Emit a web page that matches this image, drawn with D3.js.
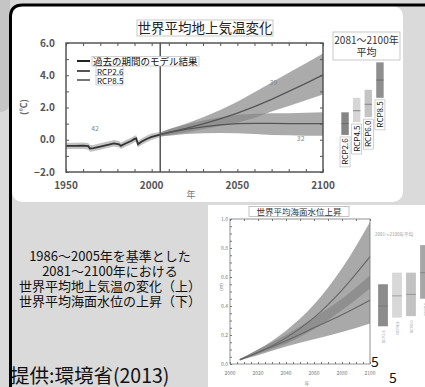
<!DOCTYPE html>
<html>
<head>
<meta charset="utf-8">
<script src="https://cdn.jsdelivr.net/npm/d3@7"></script>
<style>
  html, body { margin: 0; padding: 0; background: #dadada; }
  svg { display: block; }
  text { font-family: "Noto Sans CJK JP", "Noto Sans", sans-serif; }
</style>
</head>
<body>
<div id="slide"></div>
<script>
// ---- data: 世界平均地上気温変化 (℃, relative to 1986-2005) ----
const histYears = [1950, 1955, 1960, 1963, 1964, 1966, 1970, 1975, 1978, 1981, 1982, 1985, 1988, 1990, 1991, 1992, 1994, 1997, 2000, 2005];
const histMean  = [-0.38, -0.38, -0.37, -0.40, -0.55, -0.52, -0.42, -0.30, -0.22, -0.28, -0.38, -0.22, -0.08, 0.05, 0.08, -0.28, -0.12, 0.05, 0.18, 0.32];
const histHi    = [-0.18, -0.18, -0.17, -0.20, -0.33, -0.32, -0.22, -0.10, -0.02, -0.08, -0.18, -0.02, 0.12, 0.25, 0.28, -0.08, 0.08, 0.25, 0.38, 0.48];
const histLo    = [-0.58, -0.58, -0.57, -0.60, -0.75, -0.72, -0.62, -0.50, -0.42, -0.48, -0.58, -0.42, -0.28, -0.15, -0.12, -0.48, -0.32, -0.15, -0.02, 0.16];

const rcpYears  = [2005, 2010, 2020, 2030, 2040, 2050, 2060, 2070, 2080, 2090, 2100];
const rcp26Mean = [0.32, 0.45, 0.65, 0.80, 0.92, 1.00, 1.02, 1.02, 1.00, 1.00, 1.00];
const rcp26Hi   = [0.45, 0.65, 0.95, 1.20, 1.40, 1.55, 1.62, 1.65, 1.65, 1.68, 1.70];
const rcp26Lo   = [0.20, 0.25, 0.35, 0.40, 0.42, 0.40, 0.35, 0.30, 0.28, 0.25, 0.25];
const rcp85Mean = [0.32, 0.45, 0.70, 0.98, 1.30, 1.65, 2.05, 2.50, 3.00, 3.50, 4.02];
const rcp85Hi   = [0.45, 0.65, 1.00, 1.40, 1.85, 2.35, 2.95, 3.55, 4.15, 4.75, 5.35];
const rcp85Lo   = [0.20, 0.28, 0.45, 0.65, 0.85, 1.05, 1.35, 1.75, 2.10, 2.45, 2.80];

const rcpNames   = ["RCP2.6", "RCP4.5", "RCP6.0", "RCP8.5"];
const rcpColors  = ["#858585", "#d6d6d6", "#c4c4c4", "#8f8f8f"];
const tempAvg    = [1.0, 1.8, 2.2, 3.7];
const tempLow    = [0.3, 1.1, 1.4, 2.6];
const tempHigh   = [1.7, 2.6, 3.1, 4.8];

const tempYTicks = [-2, 0, 2, 4, 6];
const tempXTicks = [1950, 2000, 2050, 2100];

// ---- data: 世界平均海面水位上昇 (m) ----
const seaYears  = [2007, 2020, 2040, 2060, 2080, 2100];
const sea26Mean = [0.03, 0.08, 0.16, 0.25, 0.34, 0.44];
const sea26Hi   = [0.035, 0.10, 0.20, 0.32, 0.45, 0.61];
const sea26Lo   = [0.025, 0.06, 0.12, 0.17, 0.22, 0.28];
const sea85Mean = [0.03, 0.08, 0.18, 0.32, 0.51, 0.74];
const sea85Hi   = [0.035, 0.10, 0.23, 0.41, 0.66, 0.98];
const sea85Lo   = [0.025, 0.07, 0.14, 0.24, 0.37, 0.52];

const seaAvg  = [0.40, 0.47, 0.48, 0.63];
const seaLow  = [0.26, 0.32, 0.33, 0.45];
const seaHigh = [0.55, 0.63, 0.63, 0.82];

const seaYTicks = [0, 0.2, 0.4, 0.6, 0.8, 1.0];
const seaXTicks = [2000, 2020, 2040, 2060, 2080, 2100];

const captionLines = ["1986～2005年を基準とした", "2081～2100年における", "世界平均地上気温の変化（上）", "世界平均海面水位の上昇（下）"];

const W = 425, H = 387;
const svg = d3.select("#slide").append("svg")
    .attr("width", W)
    .attr("height", H);

// slide background pieces
svg.append("rect").attr("width", W).attr("height", H).attr("fill", "#dadada");
svg.append("path")
    .attr("d", "M0,0 H10 V100 Q10,112 0,112 Z")
    .attr("fill", "#c5c5c5");
svg.append("rect")
    .attr("x", 12).attr("y", 6).attr("width", 391).attr("height", 196)
    .attr("rx", 10)
    .attr("fill", "#fff");
svg.append("rect")
    .attr("x", 208).attr("y", 205).attr("width", 217).attr("height", 182)
    .attr("fill", "#fff");

// =============== top chart ===============
const xT = d3.scaleLinear().domain([1950, 2100]).range([66, 323]);
const yT = d3.scaleLinear().domain([-2, 6]).range([172, 43]);
const topG = svg.append("g");

const histPts = histYears.map((y, i) => ({ x: y, m: histMean[i], hi: histHi[i], lo: histLo[i] }));
const r26Pts = rcpYears.map((y, i) => ({ x: y, m: rcp26Mean[i], hi: rcp26Hi[i], lo: rcp26Lo[i] }));
const r85Pts = rcpYears.map((y, i) => ({ x: y, m: rcp85Mean[i], hi: rcp85Hi[i], lo: rcp85Lo[i] }));

const areaT = d3.area().x(d => xT(d.x)).y0(d => yT(d.lo)).y1(d => yT(d.hi));
const lineT = d3.line().x(d => xT(d.x)).y(d => yT(d.m));

topG.append("path").datum(histPts).attr("d", areaT).attr("fill", "#c2c2c2");
topG.append("path").datum(r85Pts).attr("d", areaT).attr("fill", "#888").attr("fill-opacity", 0.7);
topG.append("path").datum(r26Pts).attr("d", areaT).attr("fill", "#888").attr("fill-opacity", 0.7);
topG.append("path").datum(histPts).attr("d", lineT)
    .attr("fill", "none").attr("stroke", "#333").attr("stroke-width", 1.8);
topG.append("path").datum(r85Pts).attr("d", lineT)
    .attr("fill", "none").attr("stroke", "#555").attr("stroke-width", 1.3);
topG.append("path").datum(r26Pts).attr("d", lineT)
    .attr("fill", "none").attr("stroke", "#555").attr("stroke-width", 1.3);

// 2005 divider
topG.append("line")
    .attr("x1", xT(2005)).attr("x2", xT(2005))
    .attr("y1", yT(6)).attr("y2", yT(-2))
    .attr("stroke", "#555").attr("stroke-width", 1.5);

// frame + inward ticks
topG.append("rect")
    .attr("x", xT(1950)).attr("y", yT(6))
    .attr("width", xT(2100) - xT(1950)).attr("height", yT(-2) - yT(6))
    .attr("fill", "none").attr("stroke", "#555").attr("stroke-width", 1.5);
topG.append("g").attr("transform", `translate(0,${yT(-2)})`)
    .call(d3.axisBottom(xT).ticks(15).tickSize(-3).tickFormat(""))
    .call(g => g.select(".domain").remove())
    .selectAll("line").attr("stroke", "#555");
topG.append("g").attr("transform", `translate(0,${yT(6)})`)
    .call(d3.axisTop(xT).ticks(15).tickSize(-3).tickFormat(""))
    .call(g => g.select(".domain").remove())
    .selectAll("line").attr("stroke", "#555");
topG.append("g").attr("transform", `translate(${xT(1950)},0)`)
    .call(d3.axisLeft(yT).ticks(8).tickSize(-3).tickFormat(""))
    .call(g => g.select(".domain").remove())
    .selectAll("line").attr("stroke", "#555");
topG.append("g").attr("transform", `translate(${xT(2100)},0)`)
    .call(d3.axisRight(yT).ticks(8).tickSize(-3).tickFormat(""))
    .call(g => g.select(".domain").remove())
    .selectAll("line").attr("stroke", "#555");

topG.selectAll(".ylab").data(tempYTicks).join("text")
    .attr("x", 55).attr("y", d => yT(d) + 3.5)
    .attr("text-anchor", "end")
    .attr("font-family", "Liberation Sans, Arial, sans-serif")
    .attr("font-weight", "bold").attr("font-size", 10).attr("fill", "#555")
    .text(d => d3.format(".1f")(d));
topG.selectAll(".xlab").data(tempXTicks).join("text")
    .attr("x", d => xT(d)).attr("y", 189)
    .attr("text-anchor", "middle")
    .attr("font-family", "Liberation Sans, Arial, sans-serif")
    .attr("font-weight", "bold").attr("font-size", 10).attr("fill", "#555")
    .text(d => d);
topG.append("text")
    .attr("x", 191).attr("y", 198).attr("text-anchor", "middle")
    .attr("font-size", 9).attr("fill", "#777").text("年");
topG.append("text")
    .attr("transform", "translate(27,107) rotate(-90)")
    .attr("text-anchor", "middle")
    .attr("font-weight", "bold").attr("font-size", 9).attr("fill", "#666")
    .text("(℃)");

// model counts
[["42", 1967, 0.55], ["39", 2071, 3.4], ["32", 2087, -0.1]].forEach(([t, x, y]) => {
  topG.append("text").attr("x", xT(x)).attr("y", yT(y)).attr("text-anchor", "middle")
      .attr("font-family", "Liberation Sans, Arial, sans-serif")
      .attr("font-size", 7).attr("fill", "#888").text(t);
});

// title
topG.append("rect").attr("x", 137).attr("y", 20).attr("width", 136).attr("height", 16)
    .attr("fill", "#fff").attr("stroke", "#bbb").attr("stroke-width", 0.8);
topG.append("text").attr("x", 205).attr("y", 33).attr("text-anchor", "middle")
    .attr("font-size", 13.5).attr("fill", "#222").text("世界平均地上気温変化");

// legend
const legend = [
  { label: "過去の期間のモデル結果", color: "#222", y: 61, bx: 92, bw: 107 },
  { label: "RCP2.6", color: "#555", y: 71, bx: 96, bw: 27 },
  { label: "RCP8.5", color: "#777", y: 80, bx: 96, bw: 27 }
];
legend.forEach(d => {
  topG.append("line").attr("x1", 77).attr("x2", 90).attr("y1", d.y).attr("y2", d.y)
      .attr("stroke", d.color).attr("stroke-width", 2);
  topG.append("rect").attr("x", d.bx).attr("y", d.y - 4.5).attr("width", d.bw).attr("height", 9.5)
      .attr("fill", "#fff").attr("stroke", "#bbb").attr("stroke-width", 0.7);
  topG.append("text").attr("x", d.bx + 1).attr("y", d.y + 3.5)
      .attr("font-size", d.bx === 92 ? 9.5 : 8).attr("fill", "#111").text(d.label);
});

// 2081-2100 average bars
topG.append("rect").attr("x", 333).attr("y", 32).attr("width", 67).attr("height", 28)
    .attr("fill", "#fff").attr("stroke", "#bbb").attr("stroke-width", 0.8);
topG.append("text").attr("x", 366.5).attr("y", 44).attr("text-anchor", "middle")
    .attr("font-size", 10).attr("fill", "#333").text("2081～2100年");
topG.append("text").attr("x", 366.5).attr("y", 56).attr("text-anchor", "middle")
    .attr("font-size", 10).attr("fill", "#333").text("平均");

const xBarT = d3.scaleBand().domain(rcpNames).range([339, 386]).paddingInner(0.36).paddingOuter(0.2);
rcpNames.forEach((n, i) => {
  const x = xBarT(n), bw = xBarT.bandwidth();
  topG.append("rect").attr("x", x).attr("y", yT(tempHigh[i]))
      .attr("width", bw).attr("height", yT(tempLow[i]) - yT(tempHigh[i]))
      .attr("fill", rcpColors[i]);
  topG.append("line").attr("x1", x).attr("x2", x + bw)
      .attr("y1", yT(tempAvg[i])).attr("y2", yT(tempAvg[i]))
      .attr("stroke", "#555").attr("stroke-opacity", 0.6).attr("stroke-width", 1);
  const cx = x + bw / 2, yb = yT(tempLow[i]) + 2;
  topG.append("rect").attr("x", cx - 5).attr("y", yb).attr("width", 10).attr("height", 30)
      .attr("fill", "#fff").attr("stroke", "#bbb").attr("stroke-width", 0.7);
  topG.append("text").attr("transform", `translate(${cx + 3},${yb + 1.5}) rotate(-90)`)
      .attr("text-anchor", "end").attr("font-size", 8).attr("fill", "#111").text(n);
});

// =============== bottom chart ===============
const xB = d3.scaleLinear().domain([2000, 2100]).range([230, 370]);
const yB = d3.scaleLinear().domain([0, 1]).range([364, 219]);
const bot = svg.append("g");

const s26 = seaYears.map((y, i) => ({ x: y, m: sea26Mean[i], hi: sea26Hi[i], lo: sea26Lo[i] }));
const s85 = seaYears.map((y, i) => ({ x: y, m: sea85Mean[i], hi: sea85Hi[i], lo: sea85Lo[i] }));
const areaB = d3.area().x(d => xB(d.x)).y0(d => yB(d.lo)).y1(d => yB(d.hi)).curve(d3.curveMonotoneX);
const lineB = d3.line().x(d => xB(d.x)).y(d => yB(d.m)).curve(d3.curveMonotoneX);

bot.append("path").datum(s85).attr("d", areaB).attr("fill", "#848484").attr("fill-opacity", 0.7);
bot.append("path").datum(s26).attr("d", areaB).attr("fill", "#848484").attr("fill-opacity", 0.7);
bot.append("path").datum(s85).attr("d", lineB).attr("fill", "none").attr("stroke", "#666").attr("stroke-width", 1.1);
bot.append("path").datum(s26).attr("d", lineB).attr("fill", "none").attr("stroke", "#666").attr("stroke-width", 1.1);

bot.append("rect")
    .attr("x", xB(2000)).attr("y", yB(1))
    .attr("width", xB(2100) - xB(2000)).attr("height", yB(0) - yB(1))
    .attr("fill", "none").attr("stroke", "#777").attr("stroke-width", 0.8);
bot.append("g").attr("transform", `translate(0,${yB(0)})`)
    .call(d3.axisBottom(xB).ticks(20).tickSize(-2).tickFormat(""))
    .call(g => g.select(".domain").remove())
    .selectAll("line").attr("stroke", "#777");
bot.append("g").attr("transform", `translate(0,${yB(1)})`)
    .call(d3.axisTop(xB).ticks(10).tickSize(-2).tickFormat(""))
    .call(g => g.select(".domain").remove())
    .selectAll("line").attr("stroke", "#777");
bot.append("g").attr("transform", `translate(${xB(2000)},0)`)
    .call(d3.axisLeft(yB).ticks(20).tickSize(-2).tickFormat(""))
    .call(g => g.select(".domain").remove())
    .selectAll("line").attr("stroke", "#777");

bot.selectAll(".sy").data(seaYTicks).join("text")
    .attr("x", 228).attr("y", d => yB(d) + 2)
    .attr("text-anchor", "end").attr("font-size", 5).attr("fill", "#777")
    .text(d => d3.format(".1f")(d));
bot.selectAll(".sx").data(seaXTicks).join("text")
    .attr("x", d => xB(d)).attr("y", 375)
    .attr("text-anchor", "middle").attr("font-size", 5).attr("fill", "#777")
    .text(d => d);
bot.append("text").attr("x", 307).attr("y", 385).attr("text-anchor", "middle")
    .attr("font-size", 5).attr("fill", "#888").text("年");
bot.append("text").attr("transform", "translate(223,287) rotate(-90)")
    .attr("text-anchor", "middle").attr("font-size", 5).attr("fill", "#888").text("(m)");

bot.append("rect").attr("x", 249).attr("y", 206.5).attr("width", 100).attr("height", 10)
    .attr("fill", "#fff").attr("stroke", "#aaa").attr("stroke-width", 0.7);
bot.append("text").attr("x", 299).attr("y", 214.5).attr("text-anchor", "middle")
    .attr("font-size", 8.5).attr("fill", "#333").text("世界平均海面水位上昇");

bot.append("text").attr("x", 375).attr("y", 235.5)
    .attr("font-size", 4.5).attr("fill", "#999").text("2081～2100年平均");

const xBarB = d3.scaleBand().domain(rcpNames).range([376, 432]).paddingInner(0.3).paddingOuter(0.15);
const seaColors = ["#8c8c8c", "#d8d8d8", "#c2c2c2", "#a6a6a6"];
rcpNames.forEach((n, i) => {
  const x = xBarB(n), bw = xBarB.bandwidth();
  bot.append("rect").attr("x", x).attr("y", yB(seaHigh[i]))
      .attr("width", bw).attr("height", yB(seaLow[i]) - yB(seaHigh[i]))
      .attr("fill", seaColors[i]);
  bot.append("line").attr("x1", x).attr("x2", x + bw)
      .attr("y1", yB(seaAvg[i])).attr("y2", yB(seaAvg[i]))
      .attr("stroke", "#666").attr("stroke-opacity", 0.6).attr("stroke-width", 0.8);
  bot.append("text").attr("transform", `translate(${x + bw / 2 + 1.5},${yB(seaLow[i]) + 4}) rotate(-90)`)
      .attr("text-anchor", "end").attr("font-size", 4).attr("fill", "#999").text(n);
});

bot.append("text").attr("x", 375).attr("y", 367).attr("text-anchor", "middle")
    .attr("font-family", "Noto Sans, sans-serif").attr("font-size", 14).attr("fill", "#111").text("5");
bot.append("text").attr("x", 393).attr("y", 383).attr("text-anchor", "middle")
    .attr("font-family", "Noto Sans, sans-serif").attr("font-size", 14).attr("fill", "#111").text("5");

// =============== left text + caption ===============
svg.selectAll(".cap").data(captionLines).join("text")
    .attr("x", 110).attr("y", (d, i) => 261 + i * 15)
    .attr("text-anchor", "middle").attr("font-size", 13).attr("fill", "#111")
    .text(d => d);
svg.append("text").attr("x", 10).attr("y", 383)
    .attr("font-size", 19.5).attr("fill", "#111").text("提供:環境省(2013)");

// black slide frame
svg.append("path")
    .attr("d", "M10.5,387 V17 Q10.5,5 22.5,5 H425")
    .attr("fill", "none").attr("stroke", "#000").attr("stroke-width", 3);
</script>
</body>
</html>
